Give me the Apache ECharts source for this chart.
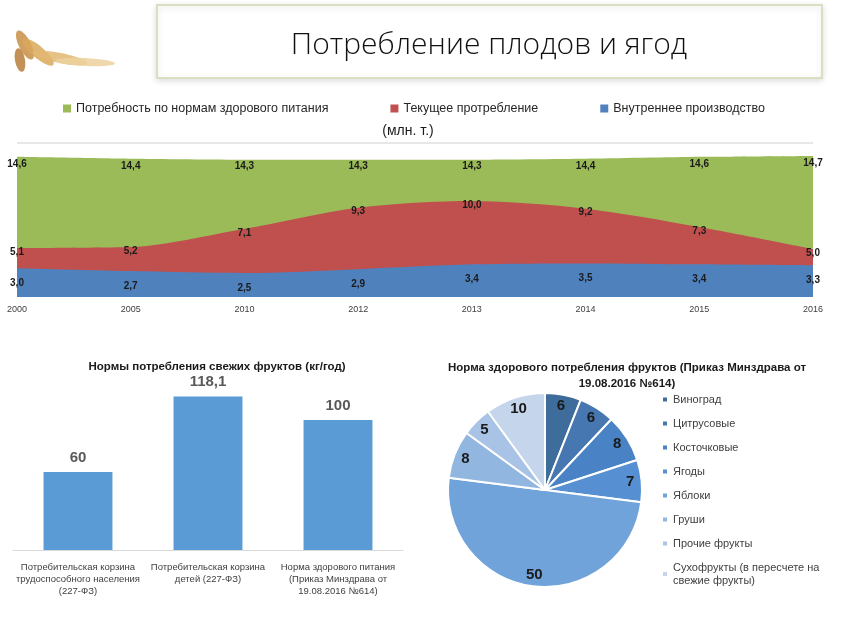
<!DOCTYPE html>
<html>
<head>
<meta charset="utf-8">
<script src="https://cdn.jsdelivr.net/npm/echarts@6/dist/echarts.min.js"></script>
<style>
  html, body { margin: 0; padding: 0; background: #fff; }
  #chart { width: 846px; height: 625px; }
</style>
</head>
<body>
<div id="chart"></div>
<script>
// данные: потребление плодов и ягод (млн. т.)
const years = ["2000", "2005", "2010", "2012", "2013", "2014", "2015", "2016"]
const needSeries = [14.6, 14.4, 14.3, 14.3, 14.3, 14.4, 14.6, 14.7]
const consumptionSeries = [5.1, 5.2, 7.1, 9.3, 10.0, 9.2, 7.3, 5.0]
const productionSeries = [3.0, 2.7, 2.5, 2.9, 3.4, 3.5, 3.4, 3.3]
const areaNames = ["Потребность по нормам здорового питания", "Текущее протребление", "Внутреннее производство"]

// нормы потребления свежих фруктов (кг/год)
const normCategories = [
  "Потребительская корзина\nтрудоспособного населения\n(227-ФЗ)",
  "Потребительская корзина\nдетей (227-ФЗ)",
  "Норма здорового питания\n(Приказ Минздрава от\n19.08.2016 №614)",
]
const normValues = [60, 118.1, 100]

// структура нормы здорового потребления фруктов
const fruitNames = ["Виноград", "Цитрусовые", "Косточковые", "Ягоды", "Яблоки", "Груши", "Прочие фрукты", "Сухофрукты (в пересчете на свежие фрукты)"]
const fruitValues = [6, 6, 8, 7, 50, 8, 5, 10]
const fruitColors = ["#3f6d9b", "#4677b0", "#4a83c5", "#5690d3", "#6fa3da", "#91b6e0", "#a9c3e6", "#c5d5ec"]

const fmt = (v) => v.toFixed(1).replace(".", ",")
const font = "'Liberation Sans', Arial, sans-serif"

const chart = echarts.init(document.getElementById("chart"))

const pieData = fruitNames.map((name, i) => ({ name, value: fruitValues[i], itemStyle: { color: fruitColors[i] } }))

// колосья в углу (упрощённо)
function ear(x, y, rot, rx, ry, color) {
  return { type: "ellipse", x, y, rotation: rot, shape: { cx: 0, cy: 0, rx, ry }, style: { fill: color, opacity: 0.85 } }
}

const option = {
  backgroundColor: "#fff",
  animation: false,
  textStyle: { fontFamily: font },
  graphic: [
    {
      type: "rect",
      shape: { x: 157, y: 5, width: 665, height: 73 },
      style: { fill: "#fff", stroke: "#d9dfc0", lineWidth: 2, shadowBlur: 6, shadowColor: "rgba(0,0,0,0.12)", shadowOffsetY: 2 },
    },
    ear(25, 45, -1.1, 16, 6, "#c98f45"),
    ear(38, 52, -0.7, 20, 6, "#d9a85c"),
    ear(60, 58, -0.2, 28, 5, "#e2b772"),
    ear(85, 62, -0.05, 30, 4, "#ecd29e"),
    ear(20, 60, -1.4, 12, 5, "#b97d3a"),
    {
      type: "line",
      shape: { x1: 17, y1: 143, x2: 813, y2: 143 },
      style: { stroke: "#d0d0d0", lineWidth: 1 },
    },
    {
      type: "text",
      x: 489, y: 45,
      style: { text: "Потребление плодов и ягод", fontSize: 30, fontFamily: "'Open Sans', sans-serif", fontWeight: 300, fill: "#111", textAlign: "center", textVerticalAlign: "middle" },
    },
    {
      type: "text",
      x: 408, y: 131,
      style: { text: "(млн. т.)", fontSize: 14, fontFamily: font, fill: "#1a1a1a", textAlign: "center", textVerticalAlign: "middle" },
    },
  ],
  title: [
    {
      text: "Нормы потребления свежих фруктов (кг/год)",
      left: 212, top: 356, textAlign: "center",
      textStyle: { fontSize: 11.5, fontWeight: "bold", color: "#1a1a1a", fontFamily: font },
    },
    {
      text: "Норма здорового потребления фруктов (Приказ Минздрава от\n19.08.2016 №614)",
      left: 622, top: 355, textAlign: "center",
      textStyle: { fontSize: 11.5, fontWeight: "bold", color: "#1a1a1a", fontFamily: font, lineHeight: 16 },
    },
  ],
  legend: [
    {
      data: areaNames,
      left: 58, top: 97,
      icon: "rect", itemWidth: 8, itemHeight: 8, itemGap: 62,
      textStyle: { fontSize: 12.5, color: "#262626", fontFamily: font },
    },
    {
      data: fruitNames,
      orient: "vertical",
      left: 656, top: 388,
      icon: "rect", itemWidth: 6, itemHeight: 6, itemGap: 11,
      formatter: (n) => n.replace("на свежие", "на\nсвежие"),
      textStyle: { fontSize: 11, color: "#404040", fontFamily: font, lineHeight: 13 },
    },
  ],
  grid: [
    { left: 17, right: 33, top: 153, bottom: 328 },
    { left: 13, right: 443, top: 368, bottom: 75 },
  ],
  xAxis: [
    {
      gridIndex: 0,
      type: "category",
      boundaryGap: false,
      data: years,
      axisLine: { show: false },
      axisTick: { show: false },
      axisLabel: { fontSize: 9, color: "#404040", margin: 8 },
    },
    {
      gridIndex: 1,
      type: "category",
      data: normCategories,
      axisLine: { lineStyle: { color: "#d9d9d9" } },
      axisTick: { show: false },
      axisLabel: { fontSize: 9.5, color: "#404040", margin: 11, lineHeight: 12, interval: 0 },
    },
  ],
  yAxis: [
    { gridIndex: 0, type: "value", min: 0, max: 15, show: false },
    { gridIndex: 1, type: "value", min: 0, max: 140, show: false },
  ],
  series: [
    {
      name: areaNames[0],
      type: "line",
      data: needSeries,
      smooth: 0.2,
      symbolSize: 0,
      lineStyle: { width: 0 },
      itemStyle: { color: "#9bbb59" },
      areaStyle: { color: "#9bbb59", opacity: 1 },
      label: { show: true, position: "bottom", distance: 2, fontSize: 10, fontWeight: "bold", color: "#1a1a1a", formatter: (p) => fmt(p.value) },
    },
    {
      name: areaNames[1],
      type: "line",
      data: consumptionSeries,
      smooth: 0.3,
      symbolSize: 0,
      lineStyle: { width: 0 },
      itemStyle: { color: "#c0504d" },
      areaStyle: { color: "#c0504d", opacity: 1 },
      label: { show: true, position: "inside", offset: [0, 4], fontSize: 10, fontWeight: "bold", color: "#1a1a1a", formatter: (p) => fmt(p.value) },
    },
    {
      name: areaNames[2],
      type: "line",
      data: productionSeries,
      smooth: 0.3,
      symbolSize: 0,
      lineStyle: { width: 0 },
      itemStyle: { color: "#4f81bd" },
      areaStyle: { color: "#4f81bd", opacity: 1 },
      label: { show: true, position: "bottom", distance: 10, fontSize: 10, fontWeight: "bold", color: "#1a1a1a", formatter: (p) => fmt(p.value) },
    },
    {
      type: "bar",
      xAxisIndex: 1,
      yAxisIndex: 1,
      data: normValues,
      barWidth: "53%",
      itemStyle: { color: "#5b9bd5" },
      label: {
        show: true, position: "top", distance: 7,
        fontSize: 15, fontWeight: "bold", color: "#595959",
        formatter: (p) => String(p.value).replace(".", ","),
      },
    },
    {
      type: "pie",
      center: [545, 490],
      radius: [0, 97],
      startAngle: 90,
      clockwise: true,
      data: pieData,
      itemStyle: { borderColor: "#fff", borderWidth: 2 },
      label: { show: false },
      labelLine: { show: false },
    },
    {
      type: "pie",
      center: [545, 490],
      radius: [68, 97],
      startAngle: 90,
      clockwise: true,
      silent: true,
      legendHoverLink: false,
      data: fruitNames.map((name, i) => ({ name, value: fruitValues[i], itemStyle: { color: "rgba(0,0,0,0)" } })),
      label: { show: true, position: "inside", fontSize: 15, fontWeight: "bold", color: "#1a1a1a", formatter: "{c}" },
      labelLine: { show: false },
    },
  ],
}

chart.setOption(option)
</script>
</body>
</html>
